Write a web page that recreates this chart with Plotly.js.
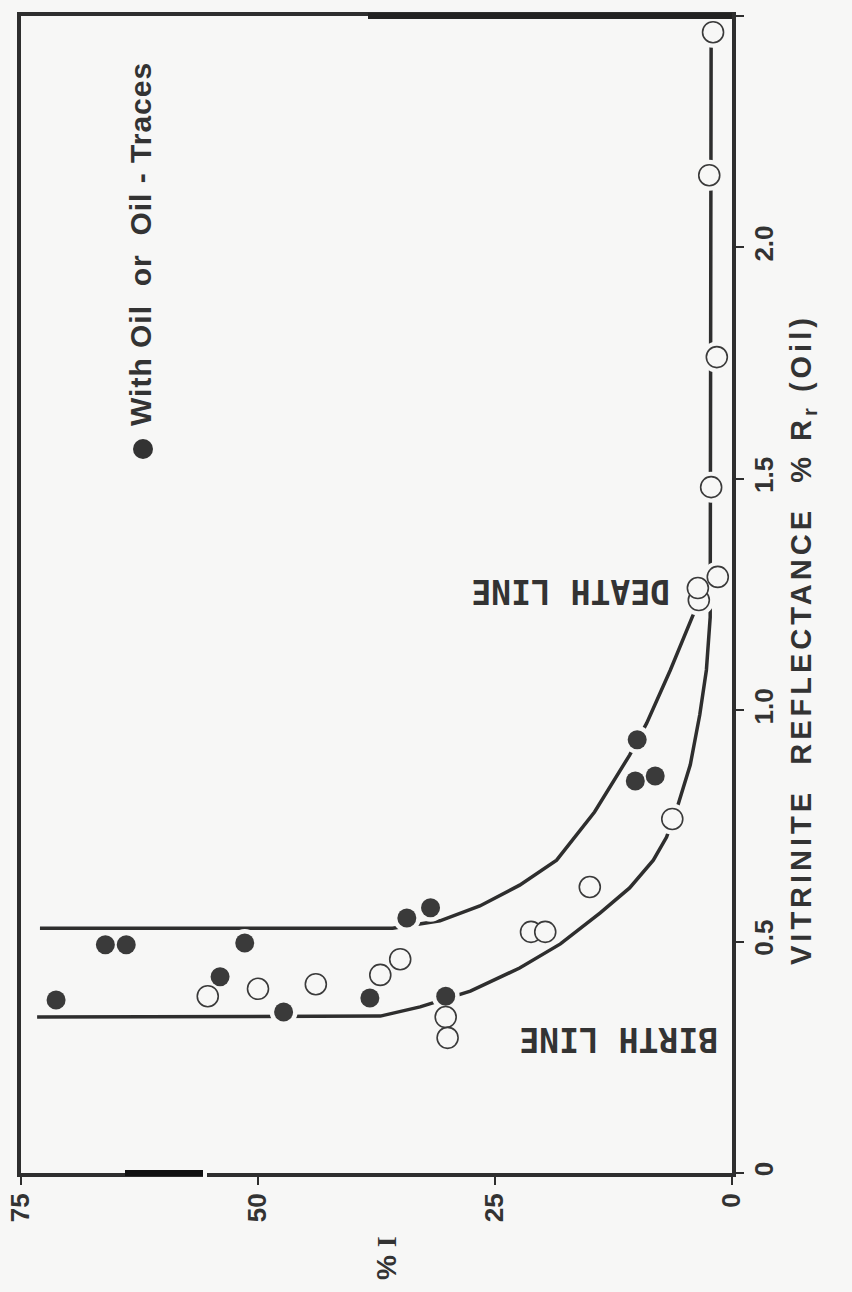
<!DOCTYPE html>
<html>
<head>
<meta charset="utf-8">
<script src="https://cdn.plot.ly/plotly-3.0.1.min.js"></script>
<style>html,body{margin:0;padding:0;background:#f7f7f6;}</style>
</head>
<body>
<div id="chart" style="width:852px;height:1292px;"></div>
<script>
// %I (horizontal) and vitrinite reflectance %Rr (vertical)
const oilI = [71.3, 66.1, 63.9, 51.4, 54.0, 47.3, 38.2, 34.3, 31.8, 30.2, 10.0, 10.2, 8.1];
const oilR = [0.374, 0.493, 0.493, 0.497, 0.424, 0.348, 0.378, 0.551, 0.573, 0.382, 0.936, 0.847, 0.858];

const noOilI = [55.3, 50.0, 43.9, 37.1, 35.0, 30.2, 30.0, 21.2, 19.7, 15.0, 6.3, 3.5, 3.6, 1.5, 2.2, 1.6, 2.4, 2.0];
const noOilR = [0.382, 0.398, 0.408, 0.428, 0.462, 0.337, 0.292, 0.521, 0.521, 0.618, 0.765, 1.238, 1.264, 1.288, 1.482, 1.763, 2.156, 2.465];

const birthI = [73.3, 37.1, 32.9, 27.6, 22.4, 18.1, 13.9, 10.8, 8.3, 6.9, 5.7, 4.4, 3.4, 2.7, 2.3, 2.2];
const birthR = [0.337, 0.339, 0.359, 0.393, 0.443, 0.495, 0.562, 0.616, 0.676, 0.726, 0.795, 0.882, 0.990, 1.087, 1.201, 2.448];

const deathI = [73.0, 35.8, 30.8, 26.6, 22.4, 18.5, 14.5, 10.8, 9.0, 6.5, 4.1, 3.4];
const deathR = [0.529, 0.529, 0.545, 0.577, 0.622, 0.676, 0.780, 0.903, 0.972, 1.087, 1.206, 1.245];

const iTicks = [75, 50, 25, 0];
const iTickText = ['75', '50', '25', '0'];
const rTicks = [0, 0.5, 1.0, 1.5, 2.0, 2.5];
const rTickText = ['0', '0.5', '1.0', '1.5', '2.0', '2.5'];

const BG = '#f7f7f6';
const INK = '#2e2e2e';
const SANS = 'Liberation Sans, Arial, sans-serif';

const traces = [
  {x: birthI, y: birthR, mode: 'lines', line: {color: INK, width: 3.5}, hoverinfo: 'skip'},
  {x: deathI, y: deathR, mode: 'lines', line: {color: INK, width: 3.5}, hoverinfo: 'skip'},
  {x: oilI, y: oilR, mode: 'markers', marker: {size: 28, color: BG, line: {width: 0}}, hoverinfo: 'skip'},
  {x: noOilI, y: noOilR, mode: 'markers', marker: {size: 31, color: BG, line: {width: 0}}, hoverinfo: 'skip'},
  {x: noOilI, y: noOilR, mode: 'markers', name: 'No oil',
   marker: {size: 21, color: BG, line: {color: '#3a3a3a', width: 1.6}}},
  {x: oilI, y: oilR, mode: 'markers', name: 'With Oil or Oil - Traces',
   marker: {size: 19, color: '#3a3a3a', line: {width: 0}}}
];

const axisCommon = {
  showgrid: false, zeroline: false, showline: true, mirror: true,
  linecolor: INK, linewidth: 4,
  ticks: 'outside', ticklen: 8, tickwidth: 2, tickcolor: INK,
  tickangle: -90, ticklabelstandoff: -2,
  tickfont: {family: SANS, size: 26, color: '#333', weight: 'bold'}
};

const PX = v => (v - 21) / 711;      // pixel -> paper x
const PY = v => (1173 - v) / 1157;   // pixel -> paper y

const layout = {
  width: 852, height: 1292,
  margin: {l: 21, r: 120, t: 16, b: 119},
  paper_bgcolor: BG, plot_bgcolor: BG,
  showlegend: false,
  xaxis: Object.assign({}, axisCommon, {range: [75, 0], tickvals: iTicks, ticktext: iTickText}),
  yaxis: Object.assign({}, axisCommon, {side: 'right', range: [0, 2.5], tickvals: rTicks, ticktext: rTickText}),
  shapes: [
    // legend symbol
    {type: 'circle', xref: 'paper', yref: 'paper', x0: PX(133), x1: PX(153), y0: PY(459), y1: PY(439),
     fillcolor: '#333', line: {width: 0}},
    // heavier stretch of the top frame and the dark stretch of the bottom axis
    {type: 'line', xref: 'paper', yref: 'paper', x0: PX(368), x1: 1, y0: 1, y1: 1,
     line: {color: '#222', width: 6}},
    {type: 'line', xref: 'paper', yref: 'paper', x0: PX(125), x1: PX(203), y0: 0, y1: 0,
     line: {color: '#111', width: 6}},
    {type: 'line', xref: 'paper', yref: 'paper', x0: PX(203), x1: PX(207), y0: 0, y1: 0,
     line: {color: BG, width: 8}}
  ],
  annotations: [
    {xref: 'paper', yref: 'paper', x: PX(141), y: PY(244), xanchor: 'center', yanchor: 'middle',
     textangle: -90, showarrow: false,
     text: '<span style="letter-spacing:1px">With Oil  or  Oil - Traces</span>',
     font: {family: SANS, size: 30, color: '#333', weight: 'bold'}},
    {xref: 'paper', yref: 'paper', x: PX(571), y: PY(592), xanchor: 'center', yanchor: 'middle',
     textangle: 180, showarrow: false, text: 'DEATH LINE',
     font: {family: 'DejaVu Sans Mono, monospace', size: 33, color: '#333', weight: 'bold'}},
    {xref: 'paper', yref: 'paper', x: PX(619), y: PY(1040), xanchor: 'center', yanchor: 'middle',
     textangle: 180, showarrow: false, text: 'BIRTH LINE',
     font: {family: 'DejaVu Sans Mono, monospace', size: 33, color: '#333', weight: 'bold'}},
    {xref: 'paper', yref: 'paper', x: PX(386), y: PY(1258), xanchor: 'center', yanchor: 'middle',
     textangle: -90, showarrow: false,
     text: '% <span style="font-family:Liberation Serif">I</span>',
     font: {family: SANS, size: 28, color: '#333', weight: 'bold'}},
    {xref: 'paper', yref: 'paper', x: PX(803), y: PY(640), xanchor: 'center', yanchor: 'middle',
     textangle: -90, showarrow: false,
     text: '<span style="letter-spacing:4px">VITRINITE  REFLECTANCE  % R<sub>r</sub> (Oil)</span>',
     font: {family: SANS, size: 29, color: '#333', weight: 'bold'}}
  ]
};

Plotly.newPlot('chart', traces, layout, {displayModeBar: false, staticPlot: true});
</script>
</body>
</html>
